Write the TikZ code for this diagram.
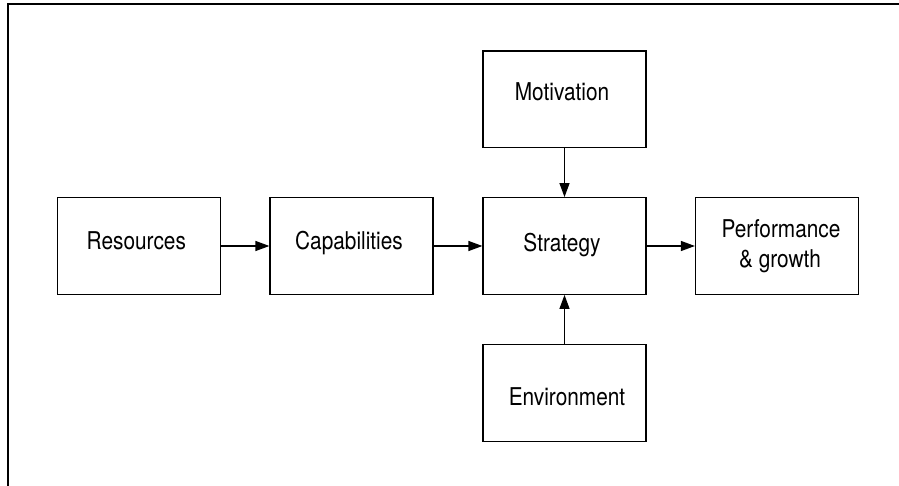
\documentclass[tikz,border=0pt]{standalone}
\usepackage{fontspec}
\setmainfont{TeX Gyre Heros}
\usetikzlibrary{arrows.meta}
\newcommand{\narrow}[1]{\scalebox{0.85}[1]{#1}}
\begin{document}
\begin{tikzpicture}[x=1pt,y=-1pt,
  blk/.style={draw,line width=1.2pt,minimum width=163pt,minimum height=96.6pt,
    inner sep=0pt},
  txt/.style={anchor=base,inner sep=0pt,font=\fontsize{24.5}{30}\selectfont},
  flow/.style={line width=1.2pt,-{Triangle[length=14pt,width=10pt]}}]
\useasboundingbox (0,0) rectangle (899,486);
% frame
\draw[line width=1.5pt] (8,486) -- (8,4) -- (899,4);
% boxes
\node[blk] (res)  at (139,246) {};
\node[blk] (cap)  at (351.5,246) {};
\node[blk] (str)  at (564.5,246) {};
\node[blk] (mot)  at (564.5,99.3) {};
\node[blk] (env)  at (564.5,392.8) {};
\node[blk] (perf) at (777,246) {};
% labels
\node[txt] (res-t)  at (136.3,249.3) {\narrow{Resources}};
\node[txt] (cap-t)  at (349,250) {\narrow{Capabilities}};
\node[txt] (str-t)  at (562,251.7) {\narrow{Strategy}};
\node[txt] (mot-t)  at (562,101) {\narrow{Motivation}};
\node[txt] (env-t)  at (567,405) {\narrow{Environment}};
\node[txt] (perf-t) at (781,238) {\narrow{Performance}};
\node[txt] (perf-u) at (780,268) {\narrow{\& growth}};
% connectors
\draw[flow] (res) -- (cap);
\draw[flow] (cap) -- (str);
\draw[flow] (str) -- (perf);
\draw[flow] (mot) -- (str);
\draw[flow] (env) -- (str);
\end{tikzpicture}
\end{document}
